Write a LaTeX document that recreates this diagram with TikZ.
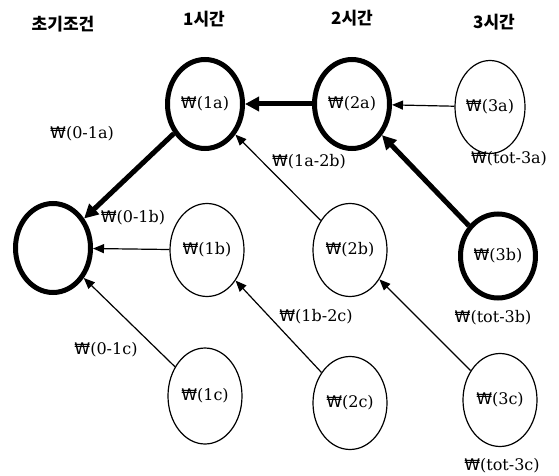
\documentclass[tikz,border=0pt]{standalone}
\usepackage{fontspec}
\setmainfont{DejaVu Serif}
\newfontfamily\krfont{Noto Sans CJK KR}
\newfontfamily\wonfont{DejaVu Sans}
\newcommand\wonsign{{\wonfont ₩}}
\usetikzlibrary{shapes.geometric,arrows.meta}
\begin{document}
\begin{tikzpicture}[x=1pt,y=-1pt,
  stnode/.style={ellipse,draw,line width=1.2pt,minimum width=74pt,minimum height=93pt,inner sep=0pt,font=\fontsize{16}{18}\selectfont},
  boldnode/.style={stnode,line width=5pt,minimum width=75pt,minimum height=89pt},
  thinarrow/.style={draw,line width=1.2pt,-{Triangle[length=11pt,width=9pt]}},
  thickarrow/.style={draw,line width=5pt,-{Triangle[length=14pt,width=14pt]}},
  lbl/.style={font=\fontsize{16}{18}\selectfont,inner sep=0pt},
  hdr/.style={font=\krfont\bfseries\fontsize{17}{19}\selectfont,inner sep=0pt}]
\useasboundingbox (0,0) rectangle (559,476);
% headers
\node[hdr] (h0) at (63,24) {초기조건};
\node[hdr] (h1) at (204,19) {1시간};
\node[hdr] (h2) at (352,18) {2시간};
\node[hdr] (h3) at (494,22) {3시간};
% nodes
\node[boldnode] (n0) at (53,248) {};
\node[boldnode] (a1) at (205,104) {\wonsign(1a)};
\node[boldnode] (a2) at (352,104) {\wonsign(2a)};
\node[stnode,minimum width=70pt] (a3) at (490,107) {\wonsign(3a)};
\node[stnode] (b1) at (207,250) {\wonsign(1b)};
\node[stnode] (b2) at (350,250) {\wonsign(2b)};
\node[boldnode,minimum height=84pt] (b3) at (498,256) {\wonsign(3b)};
\node[stnode,minimum height=96pt] (c1) at (205,396) {\wonsign(1c)};
\node[stnode] (c2) at (350,403) {\wonsign(2c)};
\node[stnode] (c3) at (500,400) {\wonsign(3c)};
% edges
\draw[thickarrow] (a2) -- (a1);
\draw[thinarrow] (a3) -- (a2);
\draw[thickarrow] (a1) -- (n0);
\draw[thinarrow] (b2) -- (a1);
\draw[thickarrow] (b3) -- (a2);
\draw[thinarrow] (b1) -- (n0);
\draw[thinarrow] (c1) -- (n0);
\draw[thinarrow] (c2) -- (b1);
\draw[thinarrow] (c3) -- (b2);
% labels
\node[lbl] (l01a) at (82,134) {\wonsign(0-1a)};
\node[lbl] (l1a2b) at (309,162) {\wonsign(1a-2b)};
\node[lbl] (lt3a) at (509,159) {\wonsign(tot-3a)};
\node[lbl] (l01b) at (133,218) {\wonsign(0-1b)};
\node[lbl] (l1b2c) at (316,317) {\wonsign(1b-2c)};
\node[lbl] (lt3b) at (493,318) {\wonsign(tot-3b)};
\node[lbl] (l01c) at (106,350) {\wonsign(0-1c)};
\node[lbl] (lt3c) at (502,466) {\wonsign(tot-3c)};
\end{tikzpicture}
\end{document}
